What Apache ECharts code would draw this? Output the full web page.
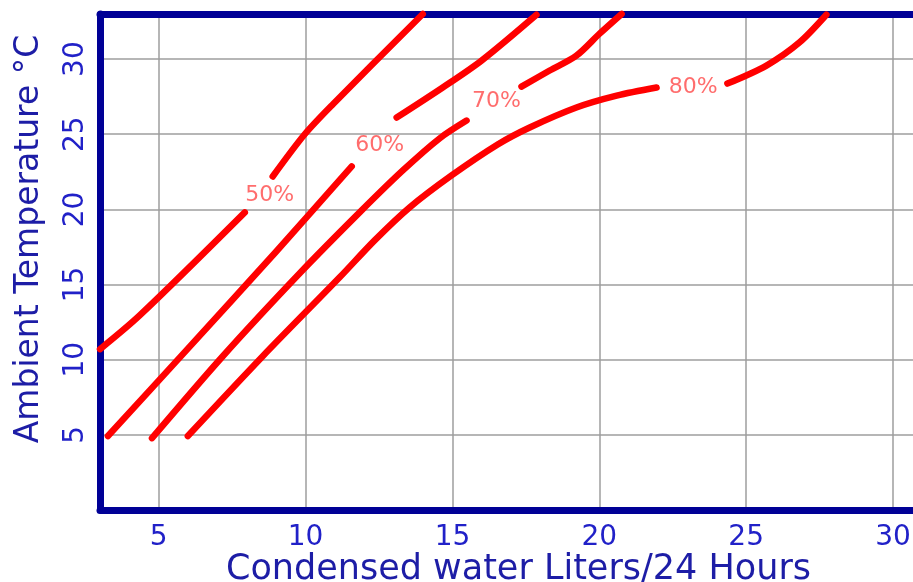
<!DOCTYPE html>
<html>
<head>
<meta charset="utf-8">
<title>Condensed water chart</title>
<script src="https://cdn.jsdelivr.net/npm/echarts@6/dist/echarts.min.js"></script>
<style>
  html, body { margin: 0; padding: 0; overflow: hidden; background: #fff; }
  #chart { width: 913px; height: 582px; }
</style>
</head>
<body>
<div id="chart"></div>
<script>
// curve pieces [litres/24h, temperature], each curve is broken where its label sits
const rh50Low = [[3.0, 10.7], [4.36, 12.96], [7.93, 19.8]]
const rh50High = [[8.88, 22.19], [9.97, 25.0], [10.93, 27.0], [13.99, 33.0]]
const rh60Low = [[3.27, 4.92], [6.0, 10.75], [9.0, 17.2], [11.57, 22.86]]
const rh60High = [[13.1, 26.11], [14.67, 28.11], [15.99, 29.9], [17.86, 32.95]]
const rh70Low = [[4.77, 4.78], [7.18, 10.23], [9.8, 15.75], [11.84, 19.8], [13.31, 22.59], [14.56, 24.72], [15.48, 25.91]]
const rh70High = [[17.35, 28.17], [18.31, 29.24], [19.22, 30.23], [20.01, 31.69], [20.76, 33.0]]
const rh80Low = [[5.99, 4.92], [8.54, 10.23], [11.16, 15.48], [12.35, 17.94], [13.54, 20.13], [14.97, 22.26], [16.54, 24.32], [17.63, 25.45], [19.22, 26.78], [20.59, 27.57], [21.95, 28.11]]
const rh80High = [[24.36, 28.37], [25.69, 29.57], [26.81, 31.1], [27.73, 32.95]]

const labelNames = ['50%', '60%', '70%', '80%']
const labelPos = [[8.78, 20.93], [12.52, 24.25], [16.5, 27.18], [23.2, 28.11]]

const xName = 'Condensed water Liters/24 Hours'
const yName = 'Ambient Temperature °C'

const navy = '#000096'
const tickBlue = '#2121c8'
const titleBlue = '#1d1da6'
const font = 'DejaVu Sans'
// the plot runs off the right edge of the picture, so the x range ends mid-cell
const xMin = 3
const xMax = 30.68

function curve(data) {
  return {
    type: 'line',
    data: data,
    smooth: 0.3,
    symbol: 'none',
    clip: false,
    z: 3,
    lineStyle: { color: '#ff0000', width: 6.5, cap: 'round', join: 'round' }
  }
}

const chart = echarts.init(document.getElementById('chart'), null, { renderer: 'canvas' })

chart.setOption({
  animation: false,
  grid: {
    left: 100,
    right: 0,
    top: 14,
    bottom: 72,
    outerBoundsMode: 'none',
    backgroundColor: '#fff'
  },
  xAxis: [{
    type: 'value',
    min: xMin,
    max: xMax,
    name: xName,
    nameLocation: 'middle',
    nameGap: 42,
    nameMoveOverlap: false,
    nameTextStyle: { fontFamily: font, fontSize: 35, color: titleBlue, padding: [0, 0, 0, 24] },
    axisLine: { show: true, lineStyle: { color: navy, width: 7 } },
    axisTick: { show: false },
    axisLabel: {
      margin: 14,
      fontFamily: font,
      fontSize: 28,
      color: tickBlue,
      formatter: v => (v % 5 === 0 ? String(v) : '')
    },
    splitLine: { show: true, showMinLine: false, showMaxLine: false, lineStyle: { color: '#9e9e9e', width: 1.5 } }
  }, {
    // top frame line only
    type: 'value',
    position: 'top',
    min: xMin,
    max: xMax,
    axisLine: { show: true, lineStyle: { color: navy, width: 7 } },
    axisTick: { show: false },
    axisLabel: { show: false },
    splitLine: { show: false }
  }],
  yAxis: {
    type: 'value',
    min: 0,
    max: 33,
    name: yName,
    nameLocation: 'middle',
    nameGap: 54,
    nameMoveOverlap: false,
    nameRotate: 90,
    nameTextStyle: { fontFamily: font, fontSize: 33, color: titleBlue, padding: [0, 0, 0, 46] },
    axisLine: { show: true, lineStyle: { color: navy, width: 7 } },
    axisTick: { show: false },
    axisLabel: {
      margin: 10,
      rotate: 90,
      fontFamily: font,
      fontSize: 28,
      color: tickBlue,
      formatter: v => (v % 5 === 0 && v > 0 ? String(v) : '')
    },
    splitLine: { show: true, showMinLine: false, showMaxLine: false, lineStyle: { color: '#9e9e9e', width: 1.5 } }
  },
  series: [
    curve(rh50Low), curve(rh50High),
    curve(rh60Low), curve(rh60High),
    curve(rh70Low), curve(rh70High),
    curve(rh80Low), curve(rh80High),
    {
      type: 'scatter',
      symbolSize: 0,
      z: 4,
      data: labelPos.map((p, i) => ({ value: p, name: labelNames[i] })),
      label: {
        show: true,
        position: 'inside',
        formatter: p => p.name,
        fontFamily: font,
        fontSize: 22,
        color: '#ff4848'
      }
    }
  ]
})
</script>
</body>
</html>
